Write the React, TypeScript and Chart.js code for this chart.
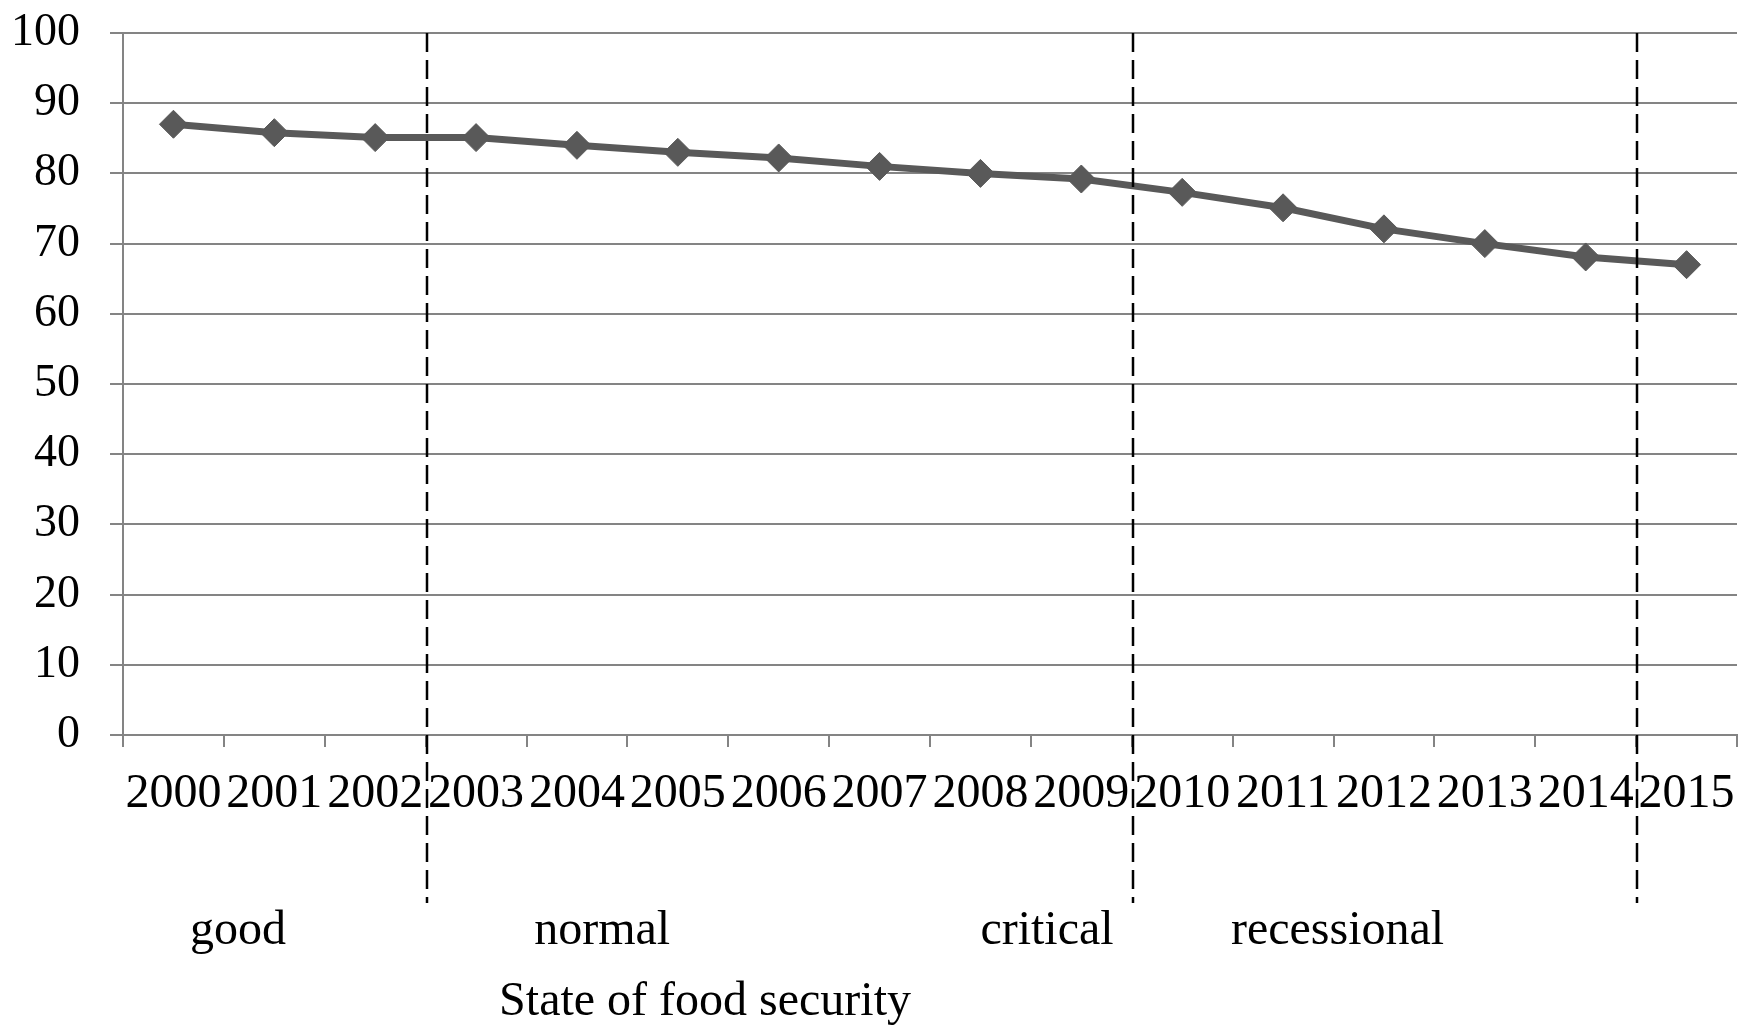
import React, { useEffect, useRef } from "react";
import { Chart, registerables } from "chart.js";

Chart.register(...registerables);

const years: string[] = [
  "2000", "2001", "2002", "2003", "2004", "2005", "2006", "2007",
  "2008", "2009", "2010", "2011", "2012", "2013", "2014", "2015",
];
const values: number[] = [
  87, 85.8, 85.1, 85.1, 84, 83, 82.2, 81, 80, 79.2, 77.3, 75.1, 72.1, 70, 68.1, 67,
];
// category-index positions of the dashed separators (between categories)
const separators: number[] = [2.5, 9.5, 14.5];
const stateLabels: string[] = ["good", "normal", "critical", "recessional"];
const stateLabelAt: number[] = [0.64, 4.25, 8.66, 11.54];
const axisTitle = "State of food security";
const axisTitleAt = 5.27;

const FONT = '"Liberation Serif", "Times New Roman", serif';

export default function App() {
  const ref = useRef<HTMLCanvasElement | null>(null);

  useEffect(() => {
    const canvas = ref.current;
    if (!canvas) return;

    const overlay = {
      id: "overlay",
      afterDraw(chart: any) {
        const ctx = chart.ctx;
        const x = chart.scales.x;
        const top = chart.chartArea.top;
        ctx.save();
        ctx.strokeStyle = "#000";
        ctx.lineWidth = 2.5;
        ctx.setLineDash([19, 8]);
        separators.forEach((s) => {
          const px = Math.round(x.getPixelForValue(s)) + 1;
          ctx.beginPath();
          ctx.moveTo(px, top);
          ctx.lineTo(px, 903);
          ctx.stroke();
        });
        ctx.setLineDash([]);
        ctx.fillStyle = "#000";
        ctx.font = `48px ${FONT}`;
        ctx.textAlign = "center";
        ctx.textBaseline = "alphabetic";
        stateLabels.forEach((t, i) => {
          ctx.fillText(t, x.getPixelForValue(stateLabelAt[i]), 944);
        });
        ctx.fillText(axisTitle, x.getPixelForValue(axisTitleAt), 1015);
        ctx.restore();
      },
    };

    const chart = new Chart(canvas, {
      type: "line",
      data: {
        labels: years,
        datasets: [
          {
            data: values,
            borderColor: "#595959",
            backgroundColor: "#595959",
            borderWidth: 7,
            pointStyle: "rectRot",
            pointRadius: 14,
            pointBorderWidth: 1,
            pointBackgroundColor: "#595959",
            pointBorderColor: "#595959",
            tension: 0,
            fill: false,
          },
        ],
      },
      options: {
        animation: false,
        responsive: false,
        maintainAspectRatio: false,
        devicePixelRatio: 1,
        layout: { padding: { top: 33, right: 17, bottom: 0, left: 0 } },
        plugins: {
          legend: { display: false },
          tooltip: { enabled: false },
          title: { display: false },
        },
        scales: {
          x: {
            offset: true,
            grid: {
              offset: true,
              drawOnChartArea: false,
              drawTicks: true,
              tickLength: 12,
              color: "#848484",
              lineWidth: 2,
            },
            border: { color: "#848484", width: 2 },
            ticks: {
              color: "#000",
              font: { family: FONT, size: 48 },
              padding: 19,
              maxRotation: 0,
              autoSkip: false,
            },
            afterFit: (s: any) => {
              s.height = 290;
              s.paddingLeft = 0;
              s.paddingRight = 0;
            },
          },
          y: {
            min: 0,
            max: 100,
            grid: {
              color: "#848484",
              lineWidth: 2,
              tickLength: 13,
            },
            border: { color: "#848484", width: 2 },
            ticks: {
              stepSize: 10,
              color: "#000",
              font: { family: FONT, size: 46 },
              padding: 30,
            },
            afterFit: (s: any) => {
              s.width = 123;
              s.paddingTop = 0;
              s.paddingBottom = 0;
            },
          },
        },
      },
      plugins: [overlay],
    });

    return () => chart.destroy();
  }, []);

  return (
    <div
      style={{
        position: "fixed",
        left: 0,
        top: 0,
        width: 1754,
        height: 1025,
        background: "#fff",
      }}
    >
      <canvas ref={ref} width={1754} height={1025} style={{ width: 1754, height: 1025 }} />
    </div>
  );
}
